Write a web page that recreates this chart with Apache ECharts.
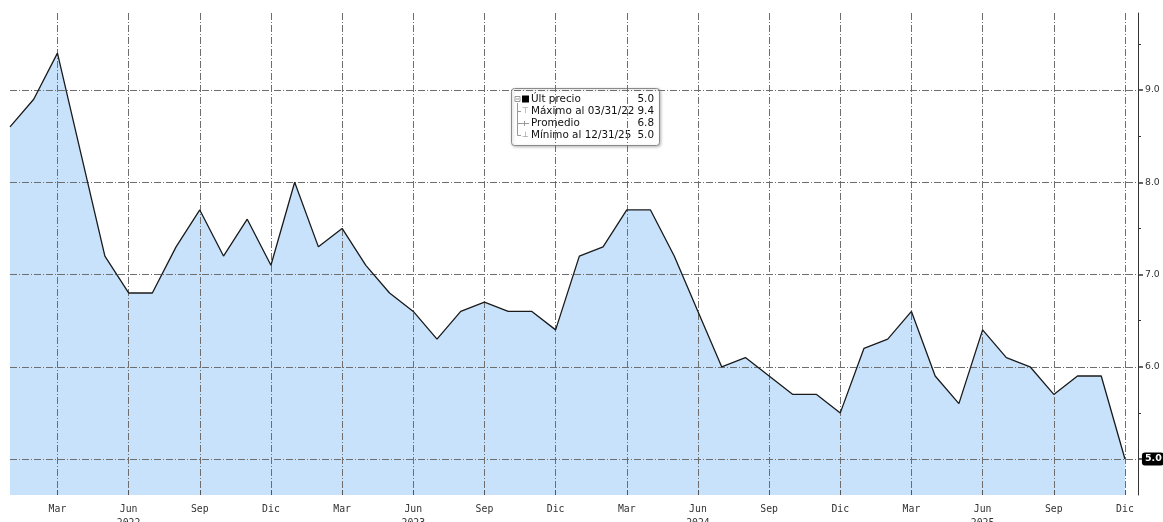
<!DOCTYPE html>
<html><head><meta charset="utf-8">
<script src="https://cdn.jsdelivr.net/npm/echarts@6/dist/echarts.min.js"></script>
<style>html,body{margin:0;padding:0;background:#fff}#c{width:1163px;height:522px}</style>
</head><body><div id="c"></div>
<script>
// Monthly data, Jan 2022 .. Dec 2025
const months = [
  '2022-01','2022-02','2022-03','2022-04','2022-05','2022-06','2022-07','2022-08','2022-09','2022-10','2022-11','2022-12',
  '2023-01','2023-02','2023-03','2023-04','2023-05','2023-06','2023-07','2023-08','2023-09','2023-10','2023-11','2023-12',
  '2024-01','2024-02','2024-03','2024-04','2024-05','2024-06','2024-07','2024-08','2024-09','2024-10','2024-11','2024-12',
  '2025-01','2025-02','2025-03','2025-04','2025-05','2025-06','2025-07','2025-08','2025-09','2025-10','2025-11','2025-12'
];
const values = [
  8.6, 8.9, 9.4, 8.3, 7.2, 6.8, 6.8, 7.3, 7.7, 7.2, 7.6, 7.1,
  8.0, 7.3, 7.5, 7.1, 6.8, 6.6, 6.3, 6.6, 6.7, 6.6, 6.6, 6.4,
  7.2, 7.3, 7.7, 7.7, 7.2, 6.6, 6.0, 6.1, 5.9, 5.7, 5.7, 5.5,
  6.2, 6.3, 6.6, 5.9, 5.6, 6.4, 6.1, 6.0, 5.7, 5.9, 5.9, 5.0
];
const xTickIndex  = [2, 5, 8, 11, 14, 17, 20, 23, 26, 29, 32, 35, 38, 41, 44, 47];
const xTickLabels = ['Mar','Jun\n2022','Sep','Dic','Mar','Jun\n2023','Sep','Dic',
                     'Mar','Jun\n2024','Sep','Dic','Mar','Jun\n2025','Sep','Dic'];
const yGridValues  = [5, 6, 7, 8, 9];
const yLabelValues = [6, 7, 8, 9];
const yMinorValues = [5.5, 6.5, 7.5, 8.5, 9.5];

const FONT = 'DejaVu Sans';
const MONO = 'DejaVu Sans Mono';

function monthEnd(m) {
  const [y, mo] = m.split('-').map(Number);
  const d = new Date(y, mo, 0).getDate();
  return String(mo).padStart(2,'0') + '/' + d + '/' + String(y).slice(2);
}
const last = values[values.length - 1];
let maxI = 0, minI = 0;
values.forEach((v, i) => { if (v > values[maxI]) maxI = i; if (v <= values[minI]) minI = i; });
const mean = values.reduce((a, b) => a + b, 0) / values.length;

const legendRows = [
  ['Últ precio', last.toFixed(1)],
  ['Máximo al ' + monthEnd(months[maxI]), values[maxI].toFixed(1)],
  ['Promedio', mean.toFixed(1)],
  ['Mínimo al ' + monthEnd(months[minI]), values[minI].toFixed(1)]
];

const gridLine = { color: '#6e6e6e', width: 1, type: [7, 2, 1, 2] };

const chart = echarts.init(document.getElementById('c'));
const rowY = [99, 111, 123.2, 135.4];
const legendEls = [
  { type: 'rect', shape: { x: 511.5, y: 88.5, width: 148, height: 57, r: 3 },
    style: { fill: '#fff', stroke: '#8a8a8a', lineWidth: 1, shadowBlur: 3, shadowColor: 'rgba(0,0,0,0.25)', shadowOffsetX: 1, shadowOffsetY: 1 } },
  { type: 'polyline', shape: { points: [[517.5, 103], [517.5, 135.5], [521, 135.5]] }, style: { stroke: '#999', lineWidth: 1, fill: null } },
  { type: 'line', shape: { x1: 517.5, y1: 111.5, x2: 521, y2: 111.5 }, style: { stroke: '#999', lineWidth: 1 } },
  { type: 'line', shape: { x1: 517.5, y1: 123.5, x2: 529, y2: 123.5 }, style: { stroke: '#999', lineWidth: 1 } },
  { type: 'rect', shape: { x: 515, y: 96.5, width: 5, height: 5 }, style: { fill: '#fff', stroke: '#999', lineWidth: 1 } },
  { type: 'line', shape: { x1: 516, y1: 99, x2: 519, y2: 99 }, style: { stroke: '#999', lineWidth: 1 } },
  { type: 'rect', shape: { x: 522, y: 95.5, width: 7, height: 7 }, style: { fill: '#000' } },
  { type: 'text', style: { text: '⊤', x: 522, y: rowY[1], font: '8px ' + FONT, fill: '#888', verticalAlign: 'middle' } },
  { type: 'text', style: { text: '⊥', x: 522, y: rowY[3], font: '8px ' + FONT, fill: '#888', verticalAlign: 'middle' } },
  { type: 'line', shape: { x1: 524.5, y1: 121, x2: 524.5, y2: 126 }, style: { stroke: '#999', lineWidth: 1 } }
];
legendRows.forEach((r, i) => {
  legendEls.push({ type: 'text', style: { text: r[0], x: 531, y: rowY[i], font: '10.4px ' + FONT, fill: '#111', verticalAlign: 'middle' } });
  legendEls.push({ type: 'text', style: { text: r[1], x: 654, y: rowY[i], font: '10.4px ' + FONT, fill: '#111', align: 'right', verticalAlign: 'middle' } });
});

const seriesData = values.map((v, i) => [i, v]);

chart.setOption({
  animation: false,
  backgroundColor: '#fff',
  grid: { left: 10, right: 25, top: 13, bottom: 27, containLabel: false, outerBoundsMode: 'none' },
  xAxis: {
    type: 'value', min: 0, max: 47.55, z: 2,
    axisLine: { show: false, onZero: false },
    axisTick: { show: true, inside: true, length: 5, customValues: xTickIndex, lineStyle: { color: '#555' } },
    axisLabel: {
      customValues: xTickIndex, margin: 7, fontSize: 9.8, fontFamily: MONO, color: '#333', lineHeight: 14,
      formatter: v => { const k = xTickIndex.indexOf(Math.round(v)); return k >= 0 ? xTickLabels[k] : ''; }
    },
    splitLine: { show: true, lineStyle: gridLine }
  },
  yAxis: [
    {
      type: 'value', position: 'right', min: 4.61, max: 9.835, z: 2,
      axisLine: { show: true, onZero: false, lineStyle: { color: '#333', width: 1 } },
      axisTick: { show: true, length: 5, customValues: yGridValues, lineStyle: { color: '#333', width: 1.5 } },
      axisLabel: { customValues: yLabelValues, margin: 7, fontSize: 9.3, fontFamily: FONT, color: '#333', formatter: v => v.toFixed(1) },
      splitLine: { show: true, lineStyle: gridLine }
    },
    {
      type: 'value', position: 'right', min: 4.61, max: 9.835, z: 2,
      axisLine: { show: false, onZero: false },
      axisTick: { show: true, length: 3, customValues: yMinorValues, lineStyle: { color: '#333' } },
      axisLabel: { show: false },
      splitLine: { show: false }
    }
  ],
  series: [
    {
      type: 'line', data: seriesData, z: 1, symbol: 'none', silent: true,
      lineStyle: { width: 0, opacity: 0 },
      areaStyle: { color: '#c8e2fc', opacity: 1, origin: 'start' }
    },
    {
      type: 'line', data: seriesData, z: 5, symbol: 'none',
      lineStyle: { color: '#1a1a1a', width: 1.3 },
      endLabel: {
        show: true, distance: 17, formatter: p => p.value[1].toFixed(1),
        backgroundColor: '#000', color: '#fff', fontWeight: 'bold', fontSize: 9.5, fontFamily: FONT,
        borderRadius: 3, padding: [2, 2, 1, 3]
      }
    }
  ],
  graphic: legendEls
});
</script></body></html>
